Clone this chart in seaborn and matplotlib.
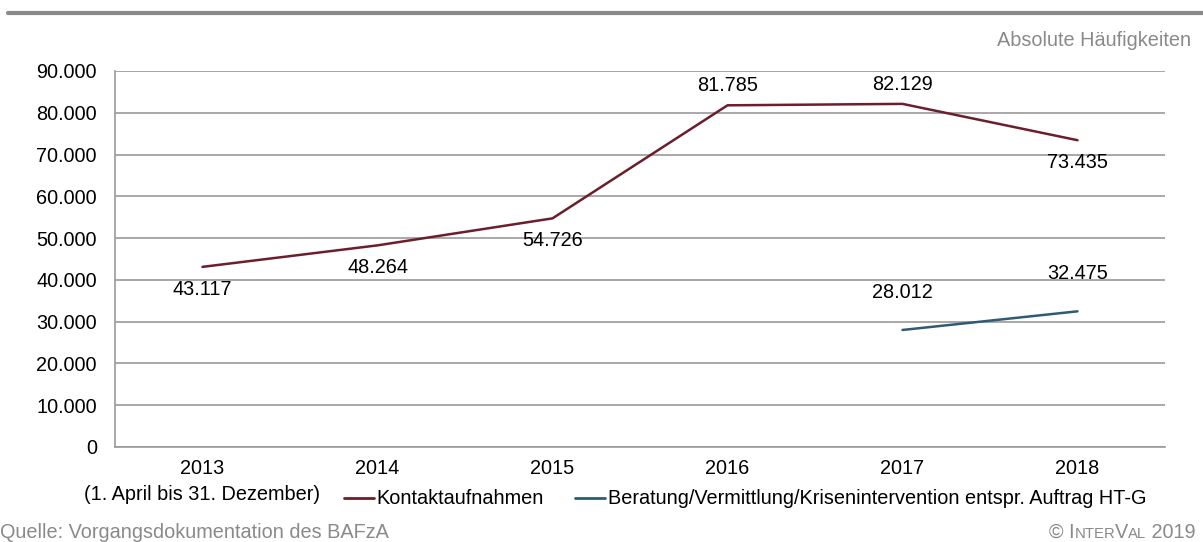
import numpy as np
import pandas as pd
import matplotlib
matplotlib.use("Agg")
import matplotlib.pyplot as plt
import seaborn as sns

years = ["2013\n(1. April bis 31. Dezember)", "2014", "2015", "2016", "2017", "2018"]
kontakt = [43117, 48264, 54726, 81785, 82129, 73435]
beratung = [np.nan, np.nan, np.nan, np.nan, 28012, 32475]
kontakt_labels = ["43.117", "48.264", "54.726", "81.785", "82.129", "73.435"]
beratung_labels = ["", "", "", "", "28.012", "32.475"]
kontakt_pos = ["below", "below", "below", "above", "above", "below"]
y_ticks = [0, 10000, 20000, 30000, 40000, 50000, 60000, 70000, 80000, 90000]

name_k = "Kontaktaufnahmen"
name_b = "Beratung/Vermittlung/Krisenintervention entspr. Auftrag HT-G"
col_k = "#6a1f2b"
col_b = "#2f5b74"
grey = "#8a8a8a"
fs = 14.3

sns.set_theme(style="white")
plt.rcParams["font.family"] = ["Liberation Sans", "DejaVu Sans"]
plt.rcParams["text.color"] = "black"
plt.rcParams["xtick.color"] = "black"
plt.rcParams["ytick.color"] = "black"

df = pd.DataFrame({
    "pos": list(range(len(years))) * 2,
    "value": kontakt + beratung,
    "series": [name_k] * len(years) + [name_b] * len(years),
})

fig = plt.figure(figsize=(12.03, 5.42), dpi=100)
ax = fig.add_axes([115 / 1203, 1 - 447 / 542, 1050 / 1203, 376 / 542])

sns.lineplot(data=df, x="pos", y="value", hue="series", palette=[col_k, col_b],
             linewidth=1.8, ax=ax, legend=False)

ax.set_xlim(-0.5, len(years) - 0.5)
ax.set_ylim(0, 90000)
ax.set_yticks(y_ticks)
ax.set_yticklabels([f"{v:,}".replace(",", ".") for v in y_ticks], fontsize=fs)
ax.yaxis.grid(True, color="#9a9a9a", linewidth=1.2)
ax.set_axisbelow(True)

# category labels between boundary ticks
ax.set_xticks(np.arange(-0.5, len(years), 1.0))
ax.set_xticklabels([])
ax.set_xticks(range(len(years)), minor=True)
ax.set_xticklabels(years, minor=True, fontsize=fs, linespacing=1.45)
ax.tick_params(axis="x", which="major", direction="out", length=5, color="#9a9a9a", width=1.2)
ax.tick_params(axis="x", which="minor", length=0, pad=9)
ax.tick_params(axis="y", direction="out", length=5, color="#9a9a9a", width=1.2, pad=8)
ax.set_xlabel("")
ax.set_ylabel("")

for s in ["top", "right"]:
    ax.spines[s].set_visible(False)
for s in ["left", "bottom"]:
    ax.spines[s].set_color("#9a9a9a")
    ax.spines[s].set_linewidth(1.2)

for i, (v, lab, p) in enumerate(zip(kontakt, kontakt_labels, kontakt_pos)):
    dy = 14 if p == "above" else -16
    ax.annotate(lab, (i, v), xytext=(0, dy), textcoords="offset points",
                ha="center", va="center", fontsize=fs)
for i, (v, lab) in enumerate(zip(beratung, beratung_labels)):
    if lab:
        ax.annotate(lab, (i, v), xytext=(0, 27), textcoords="offset points",
                    ha="center", va="center", fontsize=fs)

# legend on the second line of the category labels
handles = [plt.Line2D([], [], color=col_k, lw=2), plt.Line2D([], [], color=col_b, lw=2)]
fig.legend(handles, [name_k, name_b], loc="center left", bbox_to_anchor=(344 / 1203, 1 - 499 / 542),
           ncol=2, frameon=False, fontsize=fs, handlelength=1.5, handletextpad=0.15,
           columnspacing=1.55, borderaxespad=0, borderpad=0)

# top rule and header / footer texts
fig.add_artist(plt.Line2D([8 / 1203, 1], [1 - 13 / 542, 1 - 13 / 542], color=grey, lw=3))
fig.text(1191 / 1203, 1 - 40 / 542, "Absolute Häufigkeiten", ha="right", va="center",
         fontsize=fs, color=grey)
fig.text(0 / 1203, 1 - 533 / 542, "Quelle: Vorgangsdokumentation des BAFzA", ha="left", va="center",
         fontsize=fs, color=grey)

# small-caps style copyright, placed right to left
parts = [(" 2019", fs), ("AL", fs * 0.75), ("V", fs), ("NTER", fs * 0.75), ("© I", fs)]
fig.canvas.draw()
r = fig.canvas.get_renderer()
x = 1196
for txt, sz in parts:
    t = fig.text(x / 1203, 1 - 538 / 542, txt, ha="right", va="baseline", fontsize=sz, color=grey)
    bb = t.get_window_extent(renderer=r)
    x -= bb.width

fig.savefig("out.png", dpi=100)
